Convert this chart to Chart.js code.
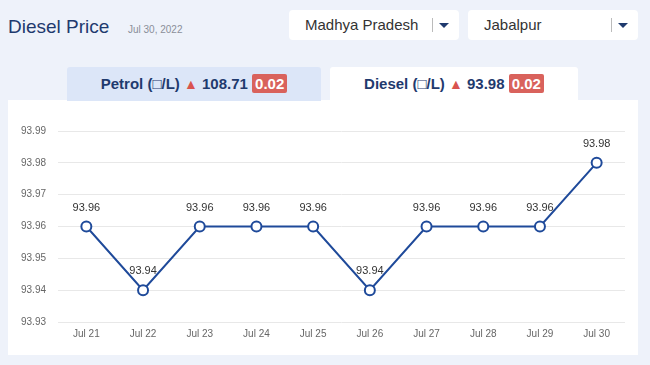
<!DOCTYPE html>
<html>
<head>
<meta charset="utf-8">
<script src="https://cdn.jsdelivr.net/npm/chart.js@4"></script>
<style>
  body { margin: 0; width: 650px; height: 365px; background: #eef2fa; font-family: "Liberation Sans", Arial, sans-serif; position: relative; overflow: hidden; }
  .title { position: absolute; left: 8px; top: 16px; font-size: 19px; color: #1f3a6e; }
  .date { position: absolute; left: 128px; top: 24px; font-size: 10px; color: #8a8f99; }
  .select { position: absolute; top: 10px; height: 30px; width: 170px; background: #fff; border-radius: 4px; }
  .select span { position: absolute; left: 16px; top: 6px; font-size: 15px; color: #333; }
  .select .sep { position: absolute; right: 26px; top: 8px; width: 1px; height: 14px; background: #bbb; }
  .select .caret { position: absolute; right: 10px; top: 13px; width: 0; height: 0; border-left: 5px solid transparent; border-right: 5px solid transparent; border-top: 5px solid #1f3a6e; }
  .tab { position: absolute; top: 67px; height: 34px; font-size: 15px; font-weight: bold; color: #1f3a6e; text-align: center; line-height: 34px; border-radius: 3px 3px 0 0; }
  .tab .up { color: #d9534f; font-size: 14px; }
  .badge { background: #d9625c; color: #fff; padding: 1px 3px; border-radius: 2px; }
  .panel { position: absolute; left: 8px; top: 100px; width: 630px; height: 255px; background: #fff; }
  #wrap { position: absolute; left: 8px; top: 110px; width: 630px; height: 240px; }
</style>
</head>
<body>
<div class="title">Diesel Price</div>
<div class="date">Jul 30, 2022</div>
<div class="select" style="left:289px"><span>Madhya Pradesh</span><div class="sep"></div><div class="caret"></div></div>
<div class="select" style="left:468px"><span>Jabalpur</span><div class="sep"></div><div class="caret"></div></div>
<div class="panel"></div>
<div class="tab" style="left:67px;width:254px;background:#dce6f8">Petrol (□/L) <span class="up">▲</span> 108.71 <span class="badge">0.02</span></div>
<div class="tab" style="left:330px;width:248px;background:#fff">Diesel (□/L) <span class="up">▲</span> 93.98 <span class="badge">0.02</span></div>
<div id="wrap"><canvas id="chart"></canvas></div>
<script>
const days = ['Jul 21', 'Jul 22', 'Jul 23', 'Jul 24', 'Jul 25', 'Jul 26', 'Jul 27', 'Jul 28', 'Jul 29', 'Jul 30'];
const dieselPrice = [93.96, 93.94, 93.96, 93.96, 93.96, 93.94, 93.96, 93.96, 93.96, 93.98];
const yMin = 93.93;
const yMax = 93.99;

// value labels above each point
const pointLabels = {
  id: 'pointLabels',
  afterDatasetsDraw(chart) {
    const ctx = chart.ctx;
    const meta = chart.getDatasetMeta(0);
    ctx.save();
    ctx.font = '11px "Liberation Sans", Arial, sans-serif';
    ctx.fillStyle = '#333';
    ctx.textAlign = 'center';
    ctx.textBaseline = 'middle';
    meta.data.forEach((pt, i) => {
      ctx.fillText(dieselPrice[i].toFixed(2), pt.x, pt.y - 19);
    });
    ctx.restore();
  }
};

new Chart(document.getElementById('chart'), {
  type: 'line',
  data: {
    labels: days,
    datasets: [{
      data: dieselPrice,
      borderColor: '#1f4a9a',
      borderWidth: 2,
      pointRadius: 5,
      pointBackgroundColor: '#fff',
      pointBorderColor: '#1f4a9a',
      pointBorderWidth: 2,
      tension: 0
    }]
  },
  options: {
    responsive: true,
    maintainAspectRatio: false,
    animation: false,
    layout: { padding: { top: 21, right: 13, bottom: 4, left: 0 } },
    plugins: { legend: { display: false }, tooltip: { enabled: false } },
    scales: {
      x: {
        offset: true,
        grid: { display: false, drawTicks: false },
        border: { display: false },
        ticks: { padding: 6, color: '#666', font: { size: 10, family: '"Liberation Sans", Arial' } }
      },
      y: {
        min: yMin,
        max: yMax,
        afterFit(scale) { scale.width = 50; },
        grid: { color: '#e8e8e8', drawTicks: false },
        border: { display: false },
        ticks: {
          stepSize: 0.01,
          padding: 12,
          color: '#666',
          font: { size: 10, family: '"Liberation Sans", Arial' },
          callback: v => Number(v).toFixed(2)
        }
      }
    }
  },
  plugins: [pointLabels]
});
</script>
</body>
</html>
